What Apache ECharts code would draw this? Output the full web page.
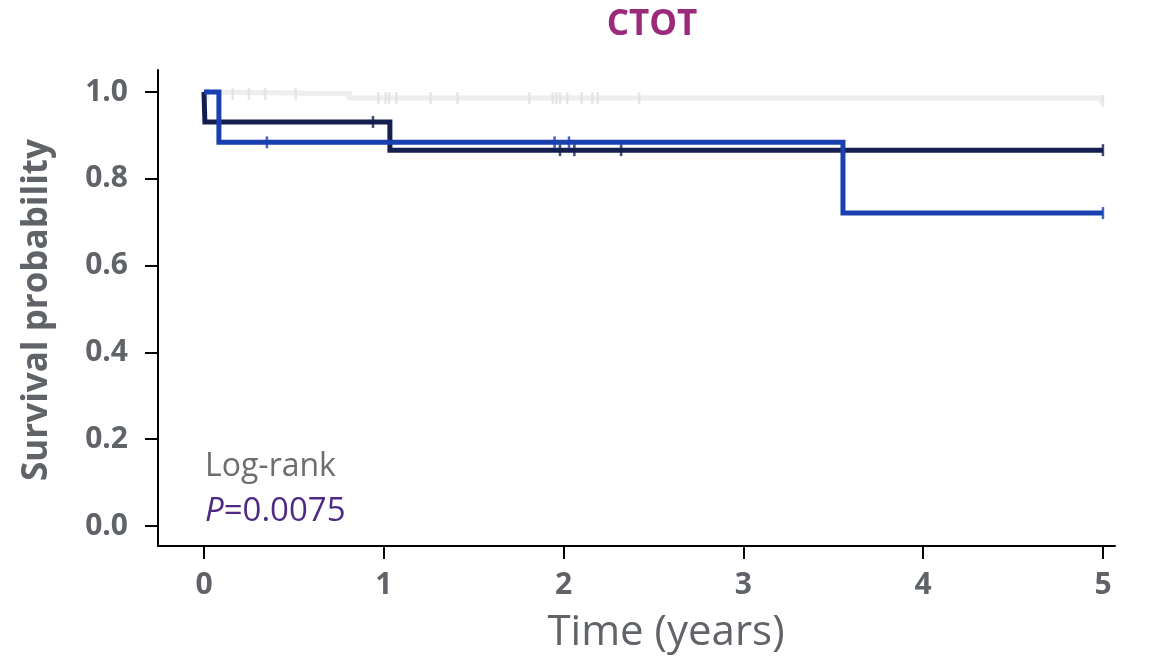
<!DOCTYPE html>
<html><head><meta charset="utf-8">
<script src="https://cdn.jsdelivr.net/npm/echarts@6/dist/echarts.min.js"></script>
<style>html,body{margin:0;padding:0;background:#fff}#c{width:1157px;height:663px}</style>
</head><body><div id="c"></div>
<script>
// ---- data ----
const xTicks = [0, 1, 2, 3, 4, 5];
const yTicks = [0, 0.2, 0.4, 0.6, 0.8, 1.0];
const grayTimes = [0, 0.01, 0.81, 4.99, 5.0];
const graySurv  = [1.0, 0.996, 0.986, 0.979, 0.979];
const grayCensor = [0.02, 0.16, 0.25, 0.34, 0.51, 0.97, 1.01, 1.03, 1.07, 1.26, 1.41, 1.81, 1.94, 1.96, 1.98, 2.02, 2.10, 2.16, 2.19, 2.42, 5.0];
const navyTimes = [0, 0.005, 1.034, 5.0];
const navySurv  = [1.0, 0.931, 0.866, 0.866];
const navyCensor = [0.94, 1.98, 2.06, 2.32, 5.0];
const blueTimes = [0, 0.083, 3.554, 5.0];
const blueSurv  = [1.0, 0.884, 0.721, 0.721];
const blueCensor = [0.35, 1.95, 2.03, 5.0];
const titleText = 'CTOT';
const xName = 'Time (years)';
const yName = 'Survival probability';

// ---- helpers ----
function stepPoints(times, surv) {
  const pts = [];
  for (let i = 0; i < times.length; i++) {
    pts.push([times[i], surv[i]]);
    if (i + 1 < times.length) pts.push([times[i + 1], surv[i]]);
  }
  return pts;
}
function survAt(times, surv, t) {
  let v = surv[0];
  for (let i = 0; i < times.length; i++) if (times[i] <= t) v = surv[i];
  return v;
}
function censorPts(times, surv, cens) {
  return cens.map(t => [t, survAt(times, surv, t)]);
}

const GRAY = '#edeef0', GRAYC = '#e0e1e3', NAVY = '#141f4f', BLUE = '#1a40b0';
const TXT = '#606368';
const FONT = '"Open Sans", "Liberation Sans", sans-serif';

function lineSeries(times, surv, color, z) {
  return { type: 'line', data: stepPoints(times, surv), showSymbol: false, symbol: 'none',
    lineStyle: { color: color, width: 5, cap: 'butt', join: 'miter' }, z: z, silent: true, animation: false };
}
function censorSeries(times, surv, cens, color, z) {
  return { type: 'scatter', data: censorPts(times, surv, cens), symbol: 'rect', symbolSize: [2.5, 12],
    itemStyle: { color: color }, z: z, silent: true, animation: false };
}

const chart = echarts.init(document.getElementById('c'), null, { renderer: 'canvas' });
chart.setOption({
  animation: false,
  backgroundColor: '#ffffff',
  grid: { left: 158, right: 42, top: 70, bottom: 117, containLabel: false },
  xAxis: {
    type: 'value', min: -0.2558, max: 5.067,
    splitLine: { show: false },
    axisLine: { show: true, onZero: false, lineStyle: { color: '#000', width: 2 } },
    axisTick: { show: true, customValues: xTicks, length: 13, lineStyle: { color: '#000', width: 2 } },
    axisLabel: { customValues: xTicks, formatter: v => String(v), color: TXT, fontFamily: FONT, fontWeight: 'bold', fontSize: 30, margin: 24 }
  },
  yAxis: {
    type: 'value', min: -0.0461, max: 1.0507,
    splitLine: { show: false },
    axisLine: { show: true, onZero: false, lineStyle: { color: '#000', width: 2 } },
    axisTick: { show: true, customValues: yTicks, length: 13, lineStyle: { color: '#000', width: 2 } },
    axisLabel: { customValues: yTicks, formatter: v => v.toFixed(1), color: TXT, fontFamily: FONT, fontWeight: 'bold', fontSize: 30, margin: 30 }
  },
  series: [
    lineSeries(grayTimes, graySurv, GRAY, 2),
    censorSeries(grayTimes, graySurv, grayCensor, GRAYC, 3),
    lineSeries(navyTimes, navySurv, NAVY, 4),
    censorSeries(navyTimes, navySurv, navyCensor, NAVY, 5),
    lineSeries(blueTimes, blueSurv, BLUE, 6),
    censorSeries(blueTimes, blueSurv, blueCensor, BLUE, 7)
  ],
  graphic: [
    { type: 'text', x: 652, y: 25, style: { text: titleText, font: 'bold 35px ' + FONT, fill: '#9c2a7b', align: 'center', verticalAlign: 'middle', textAlign: 'center', textVerticalAlign: 'middle' } },
    { type: 'text', x: 666, y: 633, style: { text: xName, font: '42px ' + FONT, fill: TXT, align: 'center', verticalAlign: 'middle', textAlign: 'center', textVerticalAlign: 'middle' } },
    { type: 'text', x: 37, y: 310, rotation: Math.PI / 2, style: { text: yName, font: 'bold 35px ' + FONT, fill: TXT, align: 'center', verticalAlign: 'middle', textAlign: 'center', textVerticalAlign: 'middle' } },
    { type: 'text', x: 205, y: 467, style: { text: 'Log-rank', font: '32px ' + FONT, fill: '#6b6d70', align: 'left', verticalAlign: 'middle', textAlign: 'left', textVerticalAlign: 'middle' } },
    { type: 'text', x: 205, y: 512, style: { text: '{i|P}{n|=0.0075}', fill: '#4e2a84', align: 'left', verticalAlign: 'middle', textAlign: 'left', textVerticalAlign: 'middle',
        rich: { i: { fontFamily: FONT, fontSize: 33, fontStyle: 'italic', fill: '#4e2a84', color: '#4e2a84' }, n: { fontFamily: FONT, fontSize: 33, fill: '#4e2a84', color: '#4e2a84' } } } }
  ]
});
</script>
</body></html>
